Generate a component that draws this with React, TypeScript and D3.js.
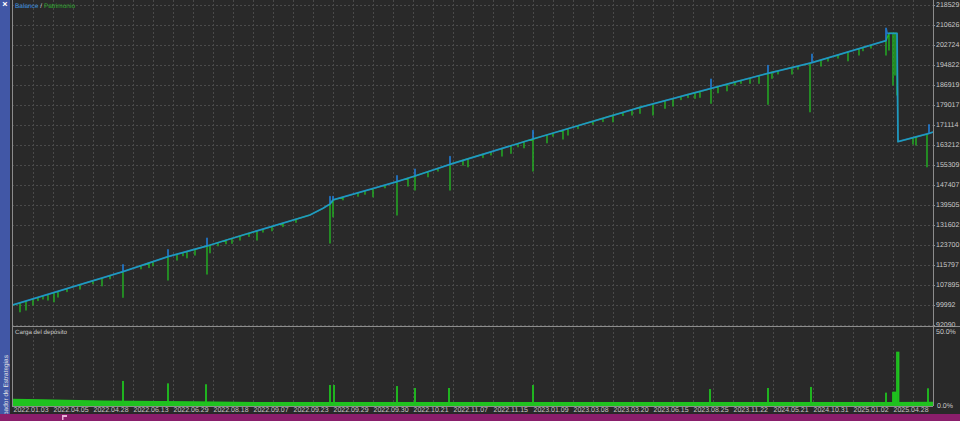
import React from "react";
import * as d3 from "d3";

// ---------- data (trade index, value) ----------
const balancePoints: [number, number][] = [
  [0, 100000],
  [110, 113156], [110, 115803], [110, 113156],
  [155, 119082], [155, 121729], [155, 119082],
  [194, 123310], [194, 126352], [194, 123310],
  [230, 127656],
  [264, 131607],
  [297, 135558],
  [310, 138205],
  [317, 139904], [317, 142788], [317, 139904],
  [320, 141485], [320, 142788], [320, 141485],
  [384, 148715], [384, 150967], [384, 148715],
  [402, 150967], [402, 153614], [402, 150967],
  [437, 155590], [437, 158592], [437, 155590],
  [520, 165586], [520, 168865], [520, 165586],
  [627, 178110],
  [698, 185617], [698, 189173], [698, 185617],
  [755, 191544], [755, 194546], [755, 191544],
  [799, 195732], [799, 199051], [799, 195732],
  [873, 204424], [873, 209323], [874, 207348],
  [884, 207348],
  [885, 164519],
  [916, 167838], [916, 171117], [916, 167838],
  [920, 168300],
];

// equity dips: trade index, equity before dip, lowest equity
const equityDipIdx = [7, 13, 20, 35, 41, 45, 67, 89, 110, 155, 164, 174, 182, 194, 197, 219, 227, 244, 259, 297, 310, 317, 320, 360, 384, 395, 402, 415, 437, 450, 455, 489, 498, 511, 520, 534, 550, 555, 600, 619, 627, 640, 652, 660, 682, 687, 698, 705, 714, 737, 746, 755, 759, 779, 797, 808, 835, 846, 873, 876, 880, 882, 884];
const equityDipTop = [100829, 101540, 102409, 104187, 104898, 105372, 108020, 110627, 113156, 119082, 120070, 121137, 122006, 123310, 123665, 126313, 127261, 129275, 131014, 135558, 138205, 139904, 141485, 145989, 148715, 150098, 150967, 152666, 155590, 157170, 157763, 161872, 162978, 164519, 165586, 167206, 169102, 169695, 174950, 177162, 178110, 179454, 180718, 181548, 183839, 184353, 185499, 186249, 187198, 189647, 190595, 191544, 191939, 193835, 195534, 196799, 199999, 201303, 204424, 207348, 207348, 207348, 207348];
const equityDipLow = [97352, 98024, 99999, 101975, 101303, 103160, 106321, 107624, 103041, 109877, 117779, 118687, 119754, 112247, 120663, 124377, 125681, 125681, 129354, 135558, 138205, 124495, 134886, 142788, 135558, 147016, 145436, 150690, 145436, 155313, 154641, 158869, 159935, 162148, 152942, 164124, 165586, 167166, 172421, 175068, 175740, 175068, 177715, 178624, 181666, 182061, 179691, 183879, 184669, 187593, 187593, 179296, 189568, 191267, 176372, 194428, 196522, 198774, 198774, 200750, 186921, 190872, 182970];
// smaller equity dips
const smallDipIdx = [25, 30, 54, 80, 97, 128, 136, 140, 170, 205, 213, 236, 250, 270, 283, 330, 345, 352, 372, 425, 470, 478, 505, 540, 565, 580, 590, 610, 668, 675, 722, 728, 765, 785, 815, 825, 850, 858];
const smallDipTop = [102990, 103588, 106458, 109568, 111601, 115527, 116581, 117107, 120708, 124638, 125603, 128353, 129980, 132325, 133881, 142615, 144310, 145101, 147361, 154003, 159563, 160526, 163779, 167926, 170851, 172606, 173776, 176116, 182444, 183184, 188113, 188737, 192496, 194400, 197612, 198787, 201725, 202665];
const smallDipLow = [101790, 102400, 105300, 108400, 110400, 114300, 114800, 115500, 119500, 123400, 124200, 127100, 128800, 131000, 132700, 141600, 143000, 143800, 146300, 152900, 158300, 159300, 162500, 166700, 169700, 171400, 172500, 174900, 181200, 182000, 186900, 187600, 191300, 193200, 196400, 197600, 200500, 201500];
const equityTailIdx = [885, 900, 903, 914, 920];
const equityTailTop = [164519, 166060, 166376, 167522, 168300];
const equityTailLow = [164519, 163610, 163215, 154641, 168300];

// deposit load (%)
const loadBase: [number, number][] = [
  [0, 4.8], [30, 4.5], [90, 3.6], [180, 3.1], [260, 2.6], [880, 2.6], [920, 2.8],
];
const loadSpikeIdx = [110, 155, 193, 317, 321, 384, 402, 436, 520, 697, 755, 798, 873, 880, 881, 882, 883, 884, 885.5, 915];
const loadSpikeVal = [16.7, 15.1, 14.5, 14, 14, 13.3, 12, 12, 14, 11.3, 12, 12.7, 8.9, 9.5, 9.5, 9.5, 9.5, 36.2, 36.2, 11.8];

const yTickLabels = ["218529", "210626", "202724", "194822", "186919", "179017", "171114", "163212", "155309", "147407", "139505", "131602", "123700", "115797", "107895", "99992", "92090"];
const dateLabels = ["2022.01.03", "2022.04.05", "2022.04.28", "2022.06.13", "2022.06.29", "2022.08.18", "2022.09.07", "2022.09.23", "2022.09.29", "2022.09.30", "2022.10.21", "2022.11.07", "2022.11.15", "2023.01.09", "2023.03.08", "2023.03.20", "2023.06.15", "2023.08.25", "2023.11.22", "2024.05.21", "2024.10.31", "2025.01.02", "2025.04.28"];

const W = 960, H = 421;
const FONT = "'Liberation Sans', Arial, sans-serif";
const BG = "#292929";
const GRID = "#4a4a4a";
const AXIS = "#8c8c8c";
const TXT = "#c8c8c8";
const BLUE = "#1e90ff";
const GREEN = "#22b422";
const LOADGREEN = "#1fc21f";
const NUM = 7;
const WORD = 6.2;

export default function App() {
  const left = 13, right = 933;
  const x = d3.scaleLinear().domain([0, 920]).range([left, right]);
  const yTop = d3.scaleLinear().domain([92090, 218529]).range([325, 5]);
  const yLoad = d3.scaleLinear().domain([0, 50]).range([406, 331]);

  const line = d3.line<[number, number]>().x(d => x(d[0])).y(d => yTop(d[1]));

  const dips: { i: number; t: number; l: number }[] = [];
  equityDipIdx.forEach((idx, k) => dips.push({ i: idx, t: equityDipTop[k], l: equityDipLow[k] }));
  smallDipIdx.forEach((idx, k) => dips.push({ i: idx, t: smallDipTop[k], l: smallDipLow[k] }));
  equityTailIdx.forEach((idx, k) => dips.push({ i: idx, t: equityTailTop[k], l: equityTailLow[k] }));
  dips.sort((a, b) => a.i - b.i);
  const equityPts: [number, number][] = [[0, 100000]];
  dips.forEach(d => equityPts.push([d.i, d.t], [d.i, d.l], [d.i, d.t]));

  const area = d3.area<[number, number]>().x(d => x(d[0])).y0(yLoad(0)).y1(d => yLoad(d[1]));

  const tickValues = yTickLabels.map(s => +s);
  const gridX = d3.range(20, 920, 20);
  const dateIdx = dateLabels.map((_, i) => i * 40);

  return (
    <div style={{ position: "fixed", left: 0, top: 0, width: W, height: H }}>
      <svg width={W} height={H} style={{ display: "block", fontFamily: FONT }} textRendering="geometricPrecision">
        <defs>
          <clipPath id="topClip"><rect x={12} y={0} width={921} height={326} /></clipPath>
          <clipPath id="lblClip"><rect x={933} y={0} width={27} height={326.5} /></clipPath>
          <clipPath id="sideClip"><rect x={0} y={0} width={10} height={414} /></clipPath>
        </defs>
        <rect x={0} y={0} width={W} height={H} fill={BG} />

        {/* grid: top panel */}
        {tickValues.map((v, i) => (
          <line key={"gh" + i} x1={12} x2={933} y1={Math.round(yTop(v)) + 0.5} y2={Math.round(yTop(v)) + 0.5} stroke={GRID} strokeDasharray="2,2" strokeWidth={1} />
        ))}
        {gridX.map((g, i) => (
          <line key={"gv" + i} x1={x(g) + 0.5} x2={x(g) + 0.5} y1={0} y2={326} stroke={GRID} strokeDasharray="2,2" />
        ))}
        {/* grid: bottom panel */}
        {gridX.map((g, i) => (
          <line key={"gv2" + i} x1={x(g) + 0.5} x2={x(g) + 0.5} y1={328} y2={406} stroke={GRID} strokeDasharray="2,2" />
        ))}

        {/* equity and balance */}
        <g clipPath="url(#topClip)">
          <path d={line(equityPts) || ""} fill="none" stroke={GREEN} strokeWidth={1.4} strokeLinejoin="round" />
          <path d={line(balancePoints) || ""} fill="none" stroke={BLUE} strokeOpacity={0.72} strokeWidth={1.8} strokeLinejoin="round" />
        </g>

        {/* deposit load */}
        <path d={area(loadBase) || ""} fill={LOADGREEN} />
        {loadSpikeIdx.map((idx, i) => (
          <rect key={"ls" + i} x={x(idx) - 0.9} width={1.8} y={yLoad(loadSpikeVal[i])} height={yLoad(0) - yLoad(loadSpikeVal[i])} fill={LOADGREEN} />
        ))}

        {/* frames */}
        <line x1={12.5} x2={12.5} y1={0} y2={406} stroke={AXIS} />
        <line x1={933.5} x2={933.5} y1={0} y2={406} stroke={AXIS} />
        <line x1={12} x2={960} y1={326.5} y2={326.5} stroke={AXIS} />
        <line x1={12} x2={933} y1={406.5} y2={406.5} stroke={AXIS} />

        {/* right axis labels */}
        <g clipPath="url(#lblClip)">
          {tickValues.map((v, i) => (
            <g key={"yl" + i}>
              <line x1={933} x2={935} y1={Math.round(yTop(v)) + 0.5} y2={Math.round(yTop(v)) + 0.5} stroke={AXIS} />
              <text x={936} y={yTop(v)} dy="0.35em" fontSize={NUM} fill={TXT}>{yTickLabels[i]}</text>
            </g>
          ))}
        </g>
        <text x={936} y={yLoad(50) + 1} dy="0.35em" fontSize={NUM} fill={TXT}>50.0%</text>
        <text x={937} y={yLoad(0)} dy="0.35em" fontSize={NUM} fill={TXT}>0.0%</text>

        {/* date labels */}
        {dateLabels.map((d, i) => (
          <text key={"dl" + i} x={x(dateIdx[i]) + 0.5} y={412} fontSize={NUM} fill={TXT}>{d}</text>
        ))}

        {/* legends */}
        <text x={15} y={7.5} fontSize={WORD + 0.3}>
          <tspan fill="#3d95e0">Balance</tspan>
          <tspan fill="#d0d0d0"> / </tspan>
          <tspan fill="#2fae2f">Patrimonio</tspan>
        </text>
        <text x={15} y={334} fontSize={WORD} fill={TXT}>Carga del depósito</text>

        {/* side bar */}
        <rect x={0} y={0} width={10} height={414} fill="#4157a6" />
        <text x={5} y={7} textAnchor="middle" fontSize={9} fontWeight="bold" fill="#ffffff">×</text>
        <g clipPath="url(#sideClip)">
          <text transform="translate(7.6,355) rotate(-90)" textAnchor="end" fontSize={WORD + 0.3} fill="#e6e6e6">Probador de Estrategias</text>
        </g>

        {/* bottom bar */}
        <rect x={0} y={414} width={W} height={7} fill="#8a1e6b" />
        <rect x={62} y={415} width={5} height={2} fill="#e8b0d8" />
        <rect x={62} y={415} width={1.5} height={5} fill="#e8b0d8" />
      </svg>
    </div>
  );
}
